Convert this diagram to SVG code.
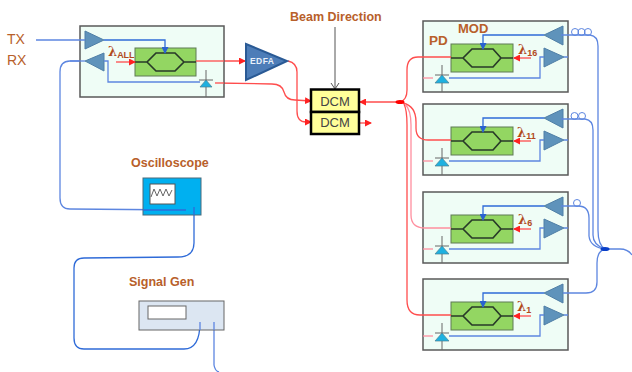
<svg xmlns="http://www.w3.org/2000/svg" xmlns:xlink="http://www.w3.org/1999/xlink" width="632" height="372" viewBox="0 0 632 372">
<style>
text{font-family:"Liberation Sans",Arial,sans-serif}
.lbl{fill:#b8602a;font-weight:bold;font-size:12.5px}
.io{fill:#b8602a;font-size:14px}
.lam{fill:#b24a1c;font-weight:bold;font-size:13px;font-family:"DejaVu Serif","Liberation Serif",serif}
.sub{font-size:9px;font-family:"Liberation Sans",sans-serif}
.box{fill:#effdf6;stroke:#595959;stroke-width:1.5}
.mz{fill:#93d662;stroke:#5f7a55;stroke-width:1}
.hex{fill:none;stroke:#283a28;stroke-width:1.7}
.amp{fill:#5f93bb;stroke:#4f7fa6;stroke-width:1}
.pd{fill:#1eb1e0;stroke:#4d7f90;stroke-width:.7}
.bar{stroke:#666;stroke-width:1;fill:none}
.b{fill:none;stroke:#5d86e0;stroke-width:1.3}
.bd{fill:none;stroke:#2f6bd8;stroke-width:1.3}
.r{fill:none;stroke:#ff4d4d;stroke-width:1.3}
.rl{fill:none;stroke:#ff8f9f;stroke-width:1.3}
.dcm{fill:#ffff99;stroke:#000;stroke-width:2.5}
.dcmt{font-size:13px;fill:#444;text-anchor:middle}
</style>
<defs>
<marker id="ar" markerWidth="7" markerHeight="7" refX="6" refY="3.5" orient="auto" markerUnits="userSpaceOnUse"><path d="M0,0L7,3.5L0,7Z" fill="#f22"/></marker>
<marker id="ab" markerWidth="7" markerHeight="7" refX="6" refY="3.5" orient="auto" markerUnits="userSpaceOnUse"><path d="M0,0L7,3.5L0,7Z" fill="#2a62d0"/></marker>
<g id="mod">
<rect class="box" x="423" y="0" width="145" height="71"/>
<rect class="mz" x="451" y="23" width="62" height="28"/>
<path class="hex" d="M451,37H463L472,28H493L501,37H513M463,37L472,46H493L501,37"/>
<path class="amp" d="M544,14L563,5V24Z"/>
<path class="amp" d="M544,27L564,36L544,46Z"/>
<path class="bd" d="M544,14H483V28" marker-end="url(#ab)"/>
<path class="r" d="M531,37H514" marker-end="url(#ar)"/>
<path class="b" d="M449,57H540V36H544M564,36H568"/>
<path class="rl" d="M423,57H433"/>
<path class="bar" d="M442,44V71M435,54H449"/>
<path class="pd" d="M442,54L449,62H435Z"/>
</g>
</defs>

<g id="connectors">
<path class="b" d="M85,61H70Q60,61 60,72V198Q60,209 70,209L186,210"/>
<path class="bd" d="M194,207V243Q194,257 178,257L84,258Q74,258 74,268V338Q74,349 84,349H184Q200,349 200,322"/>
<path class="b" d="M214,322V365Q215,371 219,372"/>
<path class="r" d="M196,61H245" marker-end="url(#ar)"/>
<path class="r" d="M288,61Q297,63 297,72V111Q297,122 306,122H311" marker-end="url(#ar)"/>
<path class="r" d="M215,83L272,84Q282,84 284,92Q286,100 295,100L311,101" marker-end="url(#ar)"/>
<path d="M335,27V88" fill="none" stroke="#555" stroke-width="1"/>
<path d="M331,83L335,89L339,83" fill="none" stroke="#555" stroke-width="1"/>
<path class="r" stroke-width="1.5" d="M400,102H360" marker-end="url(#ar)"/>
<path class="r" d="M359,123H371" marker-end="url(#ar)"/>
</g>

<g id="tx-rx-module">
<rect class="box" x="80" y="26" width="144" height="71"/>
<rect class="mz" x="135" y="48" width="61" height="28"/>
<path class="hex" d="M135,62H147L156,53H175L184,62H196M147,62L156,71H175L184,62"/>
<path class="amp" d="M85,31L104,40L85,49Z"/>
<path class="amp" d="M85,61L104,53V71Z"/>
<path class="b" d="M36,40H85"/>
<path class="bd" d="M104,40H165V53" marker-end="url(#ab)"/>
<path class="r" d="M116,62H135" marker-end="url(#ar)"/>
<path class="b" d="M104,61H108V82H200"/>
<path class="b" d="M85,61H70"/>
<path class="r" d="M196,61H224"/>
<path class="r" d="M215,83H224"/>
<path class="bar" d="M206,70V97M199,80H213"/>
<path class="pd" d="M206,80L212,87H200Z"/>
<text class="lam" x="108" y="56">λ<tspan class="sub" dy="2">ALL</tspan></text>
</g>
<g id="tx"><text class="io" x="7" y="44">TX</text></g>
<g id="rx"><text class="io" x="7" y="65">RX</text></g>
<g id="edfa">
<path d="M246,44L287,61L246,80Z" fill="#4d7db8" stroke="#2a5a95" stroke-width="2"/>
<text x="250" y="64" font-size="8.5" font-weight="bold" fill="#e8f0fa" textLength="24">EDFA</text>
</g>
<g id="beam"><text class="lbl" x="290" y="21">Beam Direction</text></g>
<g id="dcm">
<rect class="dcm" x="311" y="89.5" width="48" height="22.5"/>
<rect class="dcm" x="311" y="112" width="48" height="22"/>
<text class="dcmt" x="335" y="105.500">DCM</text>
<text class="dcmt" x="335" y="127">DCM</text>
</g>
<g id="ch16"><use xlink:href="#mod" href="#mod" y="21"/>
<text class="lbl" x="429" y="45" style="font-size:13.500px">PD</text>
<text class="lbl" x="458" y="33" style="font-size:13px">MOD</text>
<text class="lam" x="518" y="54">λ<tspan class="sub" dy="2">16</tspan></text></g>
<g id="ch11"><use xlink:href="#mod" href="#mod" y="104"/><text class="lam" x="517" y="137">λ<tspan class="sub" dy="2">11</tspan></text></g>
<g id="ch6"><use xlink:href="#mod" href="#mod" y="192"/><text class="lam" x="518" y="224">λ<tspan class="sub" dy="2">6</tspan></text></g>
<g id="ch1"><use xlink:href="#mod" href="#mod" y="279"/><text class="lam" x="517" y="311">λ<tspan class="sub" dy="2">1</tspan></text></g>
<g id="connectors-over">
<path class="r" d="M400,102Q407,100 407,90V70Q407,57 418,57H451"/>
<path class="r" d="M403,103Q416,106 416,122V128Q416,140 428,140H451"/>
<path class="rl" d="M405,104Q411,110 411,125V215Q411,228 425,228H451"/>
<path class="r" d="M404,104Q407,110 407,125V300Q407,315 420,315H451"/>
<ellipse cx="400" cy="102" rx="4.5" ry="2" fill="#f00"/>
<path class="b" d="M561,35H590Q598,36 598,46V230Q598,245 605,249"/>
<path class="b" d="M561,119H585Q593,120 593,130V235Q593,245 605,249"/>
<path class="b" d="M561,206H578Q589,206 589,218V236Q590,247 605,249"/>
<path class="b" d="M563,293H586Q597,293 597,282V263Q597,251 605,249"/>
<path class="b" d="M605,249H620Q628,249 632,255"/>
<ellipse cx="605" cy="249" rx="4.5" ry="2" fill="#0a3fc8"/>
<g fill="none" stroke="#5d86e0" stroke-width="1"><circle cx="575" cy="32" r="3.500"/><circle cx="581.500" cy="32" r="3.500"/><circle cx="588" cy="32" r="3.500"/><circle cx="574.500" cy="116" r="3.500"/><circle cx="582" cy="116" r="3.500"/><circle cx="577" cy="203" r="3.500"/></g>
</g>
<g id="oscilloscope">
<text class="lbl" x="131" y="167">Oscilloscope</text>
<rect x="143" y="178" width="58" height="37" fill="#00b0f0" stroke="#4a6a7a"/>
<rect x="150" y="184" width="25" height="20" fill="#fff" stroke="#555"/>
<path d="M151,197L154,189L157,196L160,189L163,196L166,189L169,196L172,190" fill="none" stroke="#666"/>
<path class="bd" d="M143,210H186M194,207V215"/>
</g>
<g id="signal-gen">
<text class="lbl" x="129" y="286">Signal Gen</text>
<rect x="139" y="301" width="85" height="29" fill="#dce6f2" stroke="#666"/>
<rect x="148" y="306" width="38" height="13" fill="#fff" stroke="#666"/>
<path class="b" d="M200,322V330M214,322V330"/>
</g>
</svg>
